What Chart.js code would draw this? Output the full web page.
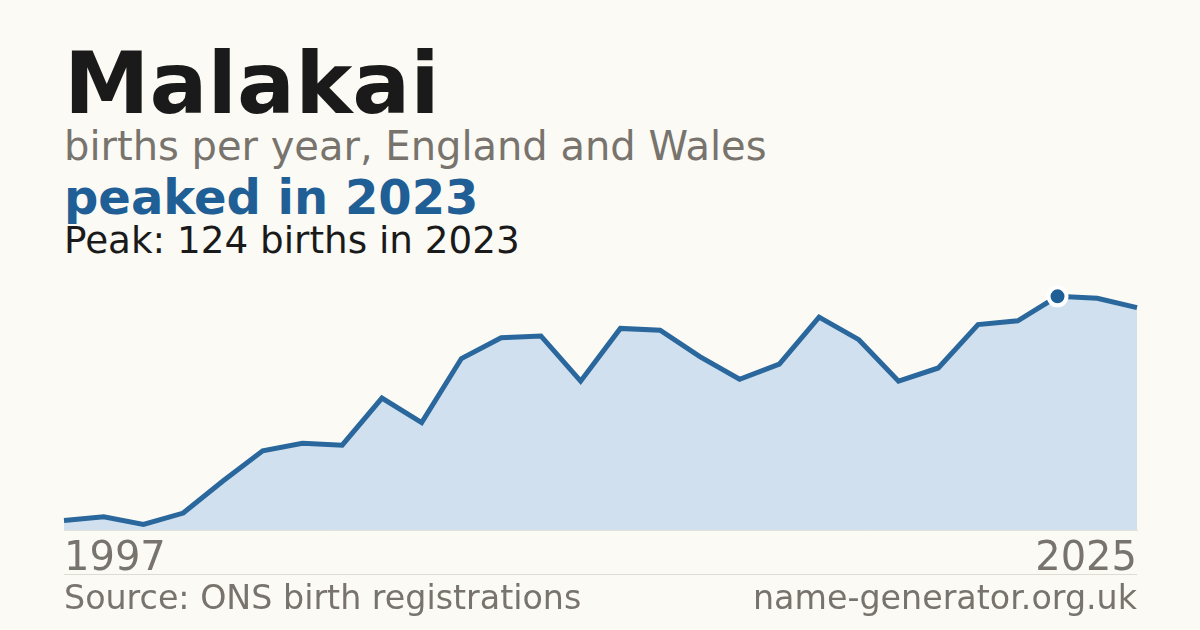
<!DOCTYPE html>
<html>
<head>
<meta charset="utf-8">
<script src="https://cdn.jsdelivr.net/npm/chart.js@4/dist/chart.umd.min.js"></script>
<style>
  html, body { margin: 0; padding: 0; }
  body {
    width: 1200px; height: 630px; overflow: hidden; position: relative;
    background: #fbfaf5; font-family: "DejaVu Sans", sans-serif;
  }
  .txt { position: absolute; left: 64px; white-space: nowrap; line-height: 1; }
  #title { top: 40px; font-size: 86px; font-weight: bold; color: #1a1a1a; }
  #sub { top: 126px; font-size: 40px; color: #78746d; }
  #peakHead { top: 173px; font-size: 48px; font-weight: bold; color: #1f5f96; }
  #peakLine { top: 222px; font-size: 37.3px; color: #1a1a1a; }
  /* box is 6px wider each side: the x axis insets the plot by its tick padding */
  #chartBox { position: absolute; left: 58px; top: 273px; width: 1085px; height: 317px; }
  #sep { position: absolute; left: 64px; top: 574px; width: 1073px; height: 1px; background: #dedbd3; }
  .foot { position: absolute; top: 581px; font-size: 33.3px; color: #78746d; line-height: 1; white-space: nowrap; }
  #src { left: 64px; }
  #site { right: 63px; }
</style>
</head>
<body>
<div class="txt" id="title">Malakai</div>
<div class="txt" id="sub">births per year, England and Wales</div>
<div class="txt" id="peakHead">peaked in 2023</div>
<div class="txt" id="peakLine">Peak: 124 births in 2023</div>
<div id="chartBox"><canvas id="chart"></canvas></div>
<div id="sep"></div>
<div class="foot" id="src">Source: ONS birth registrations</div>
<div class="foot" id="site">name-generator.org.uk</div>
<script>
// years with published counts (one early year has no figure)
const years = [1997, 1999, 2000, 2001, 2002, 2003, 2004, 2005, 2006, 2007,
               2008, 2009, 2010, 2011, 2012, 2013, 2014, 2015, 2016, 2017,
               2018, 2019, 2020, 2021, 2022, 2023, 2024, 2025];
const births = [5, 7, 3, 9, 26, 42, 46, 45, 70, 57,
                91, 102, 103, 79, 107, 106, 92, 80, 88, 113,
                101, 79, 86, 109, 111, 124, 123, 118];
const tickYears = [1997, 2025];

const peakValue = Math.max(...births);
const peakIndex = births.indexOf(peakValue);

new Chart(document.getElementById('chart'), {
  type: 'line',
  data: {
    labels: years,
    datasets: [{
      data: births,
      borderColor: '#2a679c',
      borderWidth: 5,
      backgroundColor: '#d0e0ef',
      fill: 'origin',
      tension: 0,
      clip: 6,
      pointRadius: (ctx) => ctx.dataIndex === peakIndex ? 9 : 0,
      pointHoverRadius: 0,
      pointBackgroundColor: '#1f5f96',
      pointBorderColor: '#ffffff',
      pointBorderWidth: 4
    }]
  },
  options: {
    responsive: true,
    maintainAspectRatio: false,
    animation: false,
    layout: { padding: 0, autoPadding: false },
    plugins: { legend: { display: false }, tooltip: { enabled: false } },
    scales: {
      x: {
        grid: { display: false, drawTicks: false },
        border: { display: true, color: '#e2e2dc', width: 1 },
        ticks: {
          autoSkip: false,
          maxRotation: 0,
          align: 'inner',
          padding: 6,
          color: '#78746d',
          font: { family: 'DejaVu Sans', size: 40 },
          callback: function (val, i) {
            const y = this.getLabelForValue(val);
            return tickYears.includes(Number(y)) ? y : '';
          }
        }
      },
      y: {
        display: false,
        min: 0,
        max: peakValue * 1.1
      }
    }
  }
});
</script>
</body>
</html>
